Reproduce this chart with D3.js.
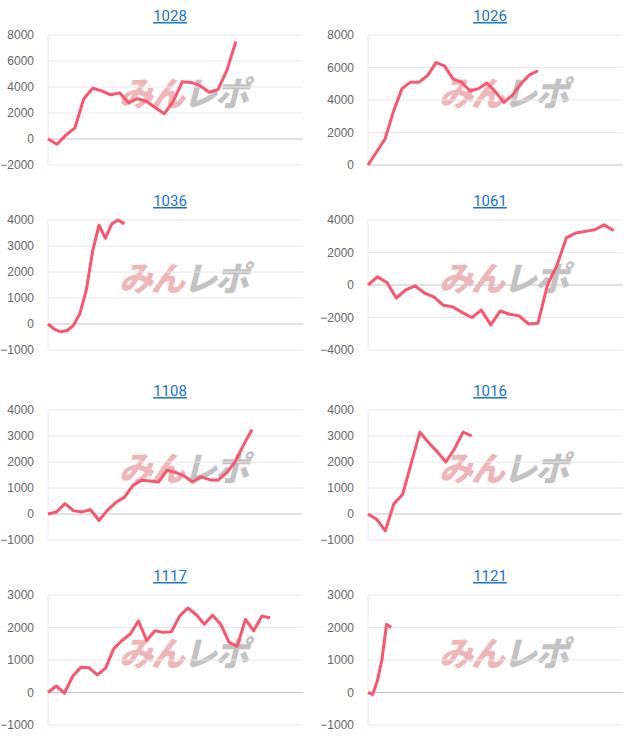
<!DOCTYPE html>
<html>
<head>
<meta charset="utf-8">
<script src="https://cdn.jsdelivr.net/npm/d3@7"></script>
<style>
  body { margin: 0; background: #fff; }
  svg { display: block; font-family: Roboto, "Noto Sans", sans-serif; }
</style>
</head>
<body>
<svg id="app" width="640" height="745"></svg>
<script>
// data, one array per machine
const ids = ['1028', '1026', '1036', '1061', '1108', '1016', '1117', '1121']

const v1028 = [0, -400, 300, 850, 3100, 3900, 3700, 3400, 3550, 2800, 3100, 2900, 2400, 1950, 2900, 4400, 4350, 4100, 3600, 3800, 5300, 7500]
const v1026 = [0, 800, 1600, 3300, 4700, 5100, 5100, 5500, 6300, 6100, 5300, 5100, 4550, 4700, 5050, 4500, 3850, 4300, 5000, 5550, 5800]
const v1036 = [0, -200, -300, -250, -50, 400, 1300, 2800, 3800, 3300, 3850, 4000, 3850]
const v1061 = [0, 500, 150, -800, -300, -50, -500, -750, -1250, -1350, -1700, -2000, -1550, -2450, -1600, -1800, -1900, -2400, -2350, 0, 1200, 2900, 3200, 3300, 3400, 3700, 3350]
const v1108 = [0, 80, 400, 130, 80, 170, -250, 150, 450, 650, 1100, 1300, 1270, 1230, 1680, 1600, 1470, 1230, 1430, 1320, 1300, 1580, 2000, 2650, 3250]
const v1016 = [0, -200, -650, 400, 750, 1950, 3150, 2750, 2400, 2000, 2500, 3150, 3000]
const v1117 = [0, 200, -20, 500, 780, 760, 540, 750, 1350, 1600, 1800, 2200, 1600, 1900, 1850, 1870, 2350, 2600, 2400, 2100, 2380, 2100, 1550, 1420, 2250, 1900, 2350, 2300]
const v1121 = [0, -60, 350, 1000, 2100, 2000]

const series = [v1028, v1026, v1036, v1061, v1108, v1016, v1117, v1121]
const xMax = [28.5, 30, 40, 27, 30, 29.5, 31, 55]
const yDomain = [[-2000, 8000], [0, 8000], [-1000, 4000], [-4000, 4000], [-1000, 4000], [-1000, 4000], [-1000, 3000], [-1000, 3000]]
const yStep = [2000, 2000, 1000, 2000, 1000, 1000, 1000, 1000]

const rowTop = [0, 185, 375, 560]
const svg = d3.select('#app')
const w = 320, ml = 48, mr = 17, mt = 35, ph = 130

ids.forEach((id, i) => {
    let g = svg.append('g')
        .attr('transform', `translate(${(i % 2) * w},${rowTop[Math.floor(i / 2)]})`)

    let x = d3.scaleLinear().domain([0, xMax[i]]).range([ml, w - mr])
    let y = d3.scaleLinear().domain(yDomain[i]).range([mt + ph, mt])
    let ticks = d3.range(yDomain[i][0], yDomain[i][1] + 1, yStep[i])

    g.append('text')
        .attr('x', w / 2 + 10).attr('y', 21)
        .attr('text-anchor', 'middle')
        .attr('font-size', 15)
        .attr('fill', '#1a73c8')
        .attr('text-decoration', 'underline')
        .text(id)

    // watermark
    let wm = g.append('text')
        .attr('x', w / 2 + 23).attr('y', mt + 71)
        .attr('text-anchor', 'middle')
        .attr('font-size', 34)
        .attr('font-weight', 900)
        .attr('font-style', 'italic')
        .attr('letter-spacing', -2)
        .attr('font-family', '"Noto Sans CJK JP", sans-serif')
        .attr('opacity', 0.42)
    wm.append('tspan').attr('fill', '#d9525a').text('みん')
    wm.append('tspan').attr('fill', '#707070').text('レポ')

    g.append('g')
        .selectAll('line')
        .data(ticks)
        .join('line')
        .attr('x1', ml).attr('x2', w - mr)
        .attr('y1', d => y(d)).attr('y2', d => y(d))
        .attr('stroke', d => d === 0 ? '#c4c4c4' : '#e8e8e8')

    g.append('line')
        .attr('x1', ml).attr('x2', ml)
        .attr('y1', mt).attr('y2', mt + ph)
        .attr('stroke', '#e8e8e8')

    g.append('g')
        .attr('transform', `translate(${ml - 11},0)`)
        .call(d3.axisLeft(y).tickValues(ticks).tickSize(0).tickFormat(d3.format('d')))
        .call(a => a.select('.domain').remove())
        .call(a => a.selectAll('text').attr('fill', '#666').attr('font-size', 12))

    g.append('path')
        .datum(series[i])
        .attr('fill', 'none')
        .attr('stroke', '#f7566e')
        .attr('stroke-width', 3)
        .attr('stroke-linejoin', 'round')
        .attr('d', d3.line().x((d, k) => x(k)).y(d => y(d)))
})
</script>
</body>
</html>
